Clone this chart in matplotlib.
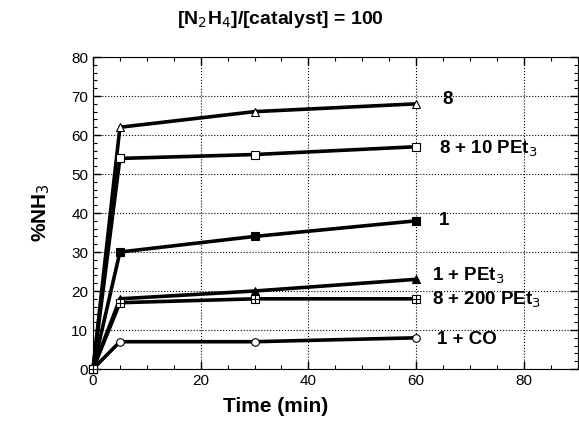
import numpy as np
import matplotlib.pyplot as plt
from matplotlib.ticker import MultipleLocator

plt.rcParams['font.family'] = ['Liberation Sans', 'DejaVu Sans']

# Daten
time = [0, 5, 30, 60]
nh3_8 = [0, 62, 66, 68]
nh3_8_10pet3 = [0, 54, 55, 57]
nh3_1 = [0, 30, 34, 38]
nh3_1_pet3 = [0, 18, 20, 23]
nh3_8_200pet3 = [0, 17, 18, 18]
nh3_1_co = [0, 7, 7, 8]

labels = ['8', '8 + 10 PEt$_3$', '1', '1 + PEt$_3$', '8 + 200 PEt$_3$', '1 + CO']
label_pos = [(64.8, 69), (64.3, 56.5), (64.3, 38), (63.0, 24), (63.0, 17.8), (63.8, 7.6)]

series = [nh3_8, nh3_8_10pet3, nh3_1, nh3_1_pet3, nh3_8_200pet3, nh3_1_co]
markers = [('^', 'white'), ('s', 'white'), ('s', 'black'), ('^', 'black'), ('sq+', 'white'), ('o', 'white')]

fig = plt.figure(figsize=(5.79, 4.21), dpi=100)
ax = fig.add_axes([0.1606, 0.1235, 0.837, 0.741])

for vals, (m, fc) in zip(series, markers):
    if m == 'sq+':
        ax.plot(time, vals, color='black', linewidth=2.6, zorder=3, clip_on=False)
        ax.plot(time, vals, linestyle='none', marker='s', markersize=5.5, clip_on=False,
                markerfacecolor='white', markeredgecolor='black', markeredgewidth=0.8, zorder=4)
        ax.plot(time, vals, linestyle='none', marker='+', markersize=5.5, clip_on=False,
                color='black', markeredgewidth=0.8, zorder=5)
    else:
        ax.plot(time, vals, color='black', linewidth=2.6, marker=m, markersize=5.5, clip_on=False,
                markerfacecolor=fc, markeredgecolor='black', markeredgewidth=0.8, zorder=3)

for lab, (x, y) in zip(labels, label_pos):
    ax.text(x, y, lab, fontsize=13.5, fontweight='bold', va='center', ha='left')

ax.set_xlim(0, 90)
ax.set_ylim(0, 80)
ax.xaxis.set_major_locator(MultipleLocator(20))
ax.xaxis.set_minor_locator(MultipleLocator(5))
ax.yaxis.set_major_locator(MultipleLocator(10))
ax.yaxis.set_minor_locator(MultipleLocator(2))
ax.tick_params(which='both', direction='in', top=True, right=True, labelsize=11)
ax.tick_params(which='major', length=6, width=1)
ax.tick_params(which='minor', length=3, width=0.8)

ax.grid(True, which='major', linestyle=':', linewidth=0.8, color='black')
ax.set_axisbelow(True)

ax.set_ylabel('%NH$_3$', fontsize=15, fontweight='bold', labelpad=14)

# Titel und x-Beschriftung sind auf die Abbildung zentriert, nicht auf die Achse
fig.text(280 / 579, 1 - 20 / 421, '[N$_2$H$_4$]/[catalyst] = 100',
         fontsize=14, fontweight='bold', ha='center', va='center')
fig.text(276 / 579, 1 - 406 / 421, 'Time (min)',
         fontsize=15, fontweight='bold', ha='center', va='center')

fig.savefig('out.png', dpi=100)
